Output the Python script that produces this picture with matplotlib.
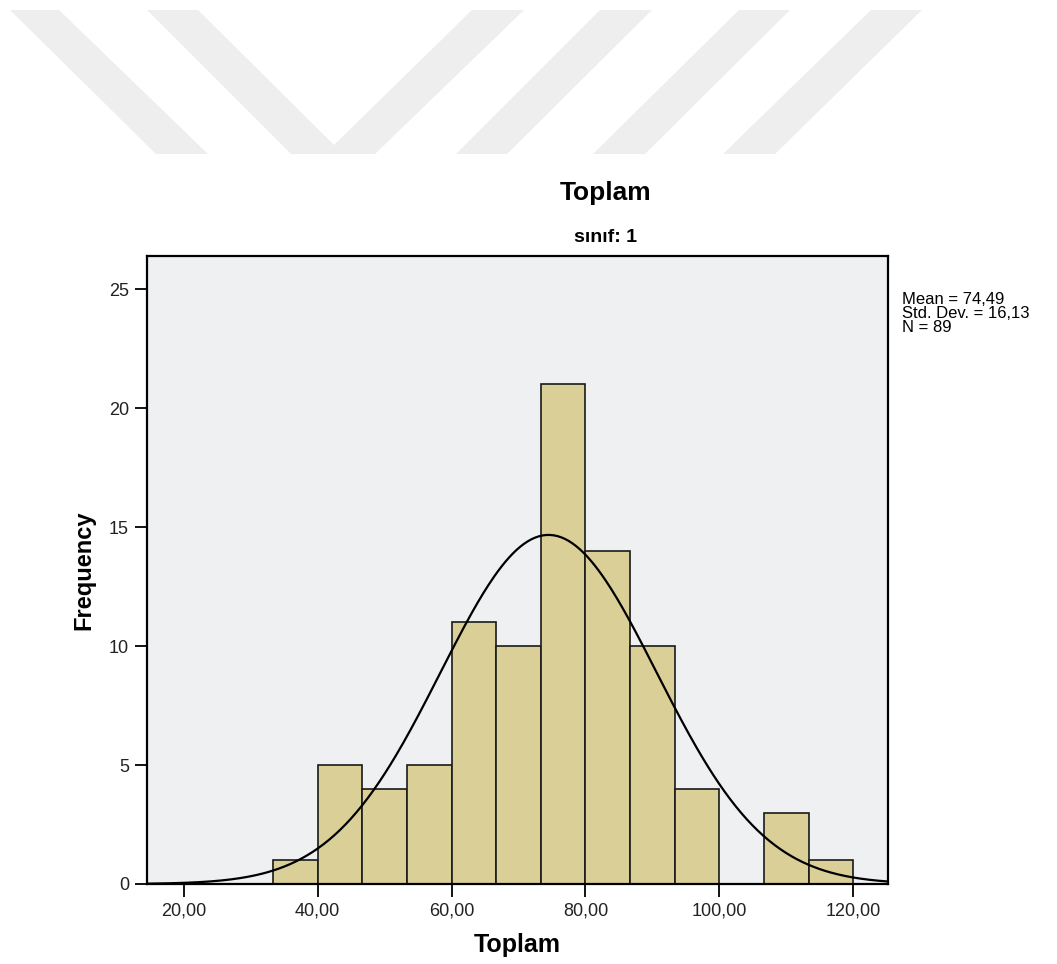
import numpy as np
import matplotlib.pyplot as plt
from matplotlib.patches import Polygon

# histogram of "Toplam" for sinif 1
bin_edges = [100 / 3, 40, 140 / 3, 160 / 3, 60, 200 / 3, 220 / 3, 80,
             260 / 3, 280 / 3, 100, 320 / 3, 340 / 3, 120]
counts = [1, 5, 4, 5, 11, 10, 21, 14, 10, 4, 0, 3, 1]
mean_val = 74.49
std_val = 16.13
n_val = 89
x_ticks = [20, 40, 60, 80, 100, 120]
x_ticklabels = ['20,00', '40,00', '60,00', '80,00', '100,00', '120,00']
y_ticks = [0, 5, 10, 15, 20, 25]

plt.rcParams['font.family'] = ['Liberation Sans', 'DejaVu Sans']

fig = plt.figure(figsize=(10.57, 9.64), dpi=100)

# faint watermark stripes at the top of the page (pixel coords)
W, H = 1057, 964
stripes = [
    [(10, 10), (59, 10), (208, 154), (156, 154)],
    [(147, 10), (198, 10), (334, 145), (472, 10), (524, 10), (375, 154), (291, 154)],
    [(600, 10), (652, 10), (507, 154), (456, 154)],
    [(739, 10), (790, 10), (645, 154), (593, 154)],
    [(871, 10), (922, 10), (775, 154), (723, 154)],
]
for s in stripes:
    pts = [(px / W, 1 - py / H) for px, py in s]
    fig.patches.append(Polygon(pts, closed=True, transform=fig.transFigure,
                               facecolor='#eeeeee', edgecolor='none', zorder=0))

ax = fig.add_axes([147 / W, 1 - 884 / H, (888 - 147) / W, (884 - 256) / H])
ax.set_facecolor('#eff0f1')

widths = np.diff(bin_edges)
ax.bar(bin_edges[:-1], counts, width=widths, align='edge',
       color='#d9cf97', edgecolor='#1a1a1a', linewidth=1.2, zorder=2)

xs = np.linspace(14.5, 125.2, 400)
bw = 20 / 3
pdf = n_val * bw / (std_val * np.sqrt(2 * np.pi)) * np.exp(-0.5 * ((xs - mean_val) / std_val) ** 2)
ax.plot(xs, pdf, color='black', linewidth=1.6, zorder=3)

ax.set_xlim(14.5, 125.2)
ax.set_ylim(0, 26.4)
ax.set_xticks(x_ticks)
ax.set_xticklabels(x_ticklabels)
ax.set_yticks(y_ticks)
ax.tick_params(direction='out', length=9, width=1.3, labelsize=13, pad=4,
               labelcolor='#222222')

for sp in ax.spines.values():
    sp.set_linewidth(1.6)

ax.set_xlabel('Toplam', fontsize=18, fontweight='bold', labelpad=10)
ax.set_ylabel('Frequency', fontsize=17, fontweight='bold', labelpad=10)

fig.text(606 / W, 1 - 193 / H, 'Toplam', ha='center', va='center',
         fontsize=19, fontweight='bold')
fig.text(606 / W, 1 - 238 / H, 'sınıf: 1', ha='center', va='center',
         fontsize=14, fontweight='bold')

fig.text(902 / W, 1 - 292 / H,
         'Mean = %s\nStd. Dev. = %s\nN = %d' % (f'{mean_val:.2f}'.replace('.', ','),
                                                f'{std_val:.2f}'.replace('.', ','), n_val),
         ha='left', va='top', fontsize=12, linespacing=0.9)

plt.savefig('out.png', dpi=100)
